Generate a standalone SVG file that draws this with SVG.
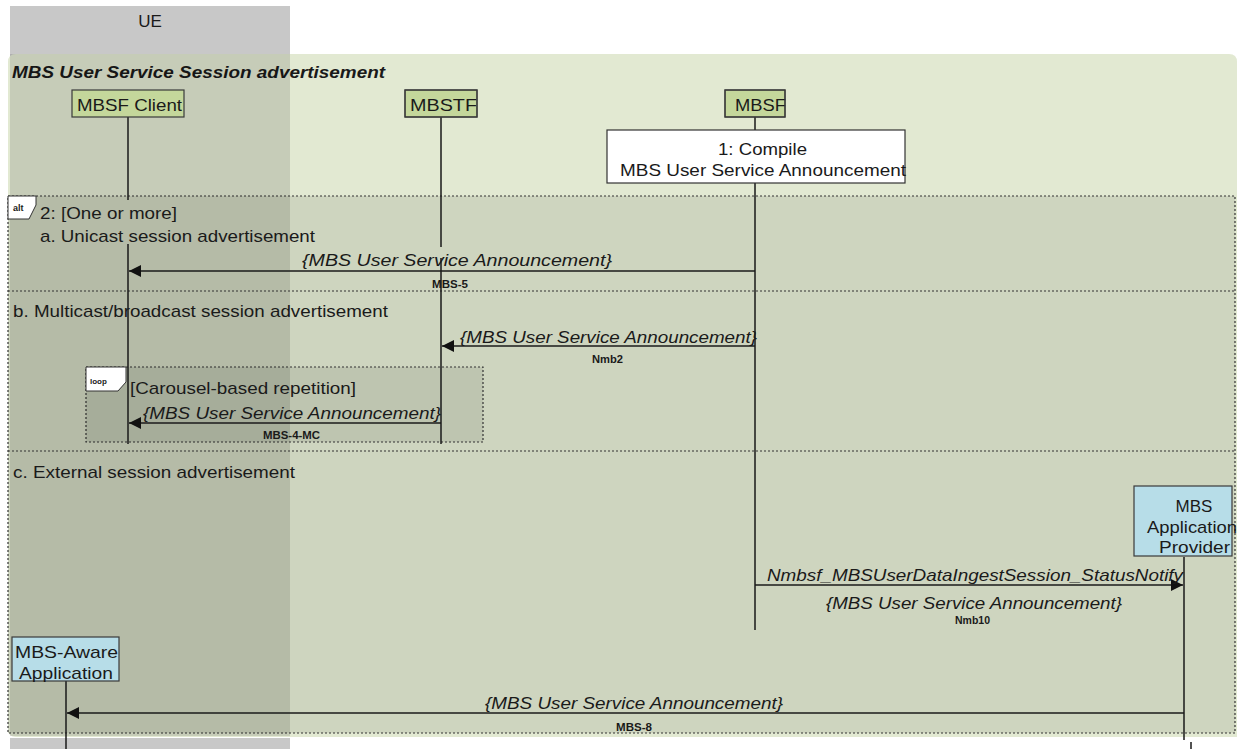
<svg xmlns="http://www.w3.org/2000/svg" width="1237" height="749" viewBox="0 0 1237 749">
<style>
.t{font-family:"Liberation Sans",Arial,sans-serif;fill:#1a1a1a}
.n{font-size:17px}
.m{font-size:17px;font-style:italic}
.s{font-size:10px;font-weight:bold}
.ll{stroke:#1a1a1a;stroke-width:1.5;fill:none}
.dot{stroke:#333;stroke-width:1.2;stroke-dasharray:2,2}
.msg{stroke:#1a1a1a;stroke-width:1.3;fill:none}
.gbox{fill:#c4d79b;stroke:#3a3a3a;stroke-width:1.2}
.bbox{fill:#b7dde8;stroke:#3a3a3a;stroke-width:1.2}
.tag{fill:#fff;stroke:#333;stroke-width:1}
</style>
<defs>
<marker id="ah" viewBox="0 0 12 12" refX="12" refY="6" markerWidth="12" markerHeight="12" markerUnits="userSpaceOnUse" orient="auto">
<path d="M0,0 L12,6 L0,12 Z" fill="#111"/>
</marker>
</defs>
<rect width="1237" height="749" fill="#fff"/>
<g id="ue">
<rect x="10" y="6" width="280" height="50" fill="#c8c8c8"/>
<rect x="10" y="738" width="280" height="11" fill="#c8c8c8"/>
<text class="t" x="150" y="27" font-size="17" text-anchor="middle">UE</text>
</g>
<g id="frame">
<path d="M16,54 H1229 Q1237,54 1237,62 V737 H16 Q8,737 8,729 V62 Q8,54 16,54 Z" fill="#e2e9d2"/>
<text class="t" x="12" y="78" font-size="17" font-weight="bold" font-style="italic" textLength="373" lengthAdjust="spacingAndGlyphs">MBS User Service Session advertisement</text>
</g>
<g id="alt">
<rect x="8" y="196" width="1227" height="537" class="dot" style="fill:#ced5bf"/>
</g>
<g id="loop">
<rect x="86" y="367" width="397" height="75" class="dot" style="fill:#000;fill-opacity:0.075"/>
</g>
<rect id="ue-overlay" x="10" y="54" width="280" height="682" fill="#000" fill-opacity="0.12"/>
<g id="alt-parts">
<line x1="8" y1="291" x2="1235" y2="291" class="dot"/>
<line x1="8" y1="451" x2="1235" y2="451" class="dot"/>
<polygon points="8,196 36,196 36,205 29,219 8,219" class="tag"/>
<text class="t" x="13" y="211" font-size="9" font-weight="bold">alt</text>
<text class="t n" x="40" y="219" textLength="137" lengthAdjust="spacingAndGlyphs">2: [One or more]</text>
<text class="t n" x="40" y="242" textLength="275" lengthAdjust="spacingAndGlyphs">a. Unicast session advertisement</text>
<text class="t n" x="13" y="317" textLength="375" lengthAdjust="spacingAndGlyphs">b. Multicast/broadcast session advertisement</text>
<text class="t n" x="13" y="478" textLength="282" lengthAdjust="spacingAndGlyphs">c. External session advertisement</text>
</g>
<g id="loop-parts">
<polygon points="86,367 126,367 126,382 118,391 86,391" class="tag"/>
<text class="t" x="90" y="384" font-size="8" font-weight="bold">loop</text>
<text class="t n" x="130" y="394" textLength="226" lengthAdjust="spacingAndGlyphs">[Carousel-based repetition]</text>
</g>
<g id="lifelines">
<path class="ll" d="M128,117 V200 M128,244 V444"/>
<path class="ll" d="M441,117 V247 M441,258 V444"/>
<path class="ll" d="M755,117 V130 M755,183 V630"/>
<path class="ll" d="M1184,557 V740 M1191,742 V749"/>
<path class="ll" d="M66,681 V749"/>
</g>
<g id="mbsf-client">
<rect x="72" y="90" width="112" height="27" class="gbox"/>
<text class="t n" x="77" y="111" textLength="105" lengthAdjust="spacingAndGlyphs">MBSF Client</text>
</g>
<g id="mbstf">
<rect x="405" y="90" width="72" height="27" class="gbox"/>
<text class="t n" x="410" y="111" textLength="67" lengthAdjust="spacingAndGlyphs">MBSTF</text>
<rect x="405" y="90" width="72" height="27" class="gbox" style="fill:none"/>
</g>
<g id="mbsf">
<rect x="725" y="90" width="60" height="27" class="gbox"/>
<text class="t n" x="735" y="111" textLength="51" lengthAdjust="spacingAndGlyphs">MBSF</text>
<rect x="725" y="90" width="60" height="27" class="gbox" style="fill:none"/>
</g>
<g id="compile">
<rect x="607" y="130" width="298" height="53" fill="#fff" stroke="#333" stroke-width="1.2"/>
<text class="t n" x="718" y="155" textLength="89" lengthAdjust="spacingAndGlyphs">1: Compile</text>
<text class="t n" x="620" y="176" textLength="286" lengthAdjust="spacingAndGlyphs">MBS User Service Announcement</text>
</g>
<g id="app-provider">
<rect x="1134" y="486" width="98" height="70" class="bbox"/>
<text class="t n" x="1194" y="512" text-anchor="middle">MBS</text>
<text class="t n" x="1147" y="533" textLength="90" lengthAdjust="spacingAndGlyphs">Application</text>
<text class="t n" x="1159" y="553" textLength="71" lengthAdjust="spacingAndGlyphs">Provider</text>
</g>
<g id="mbs-aware-app">
<rect x="12" y="637" width="107" height="44" class="bbox"/>
<text class="t n" x="15" y="658" textLength="103" lengthAdjust="spacingAndGlyphs">MBS-Aware</text>
<text class="t n" x="19" y="679" textLength="94" lengthAdjust="spacingAndGlyphs">Application</text>
</g>
<g id="connectors">
<line x1="755" y1="271" x2="129" y2="271" class="msg" marker-end="url(#ah)"/>
<text class="t m" x="302" y="266" textLength="310" lengthAdjust="spacingAndGlyphs">{MBS User Service Announcement}</text>
<text class="t s" x="432" y="288" textLength="36" lengthAdjust="spacingAndGlyphs">MBS-5</text>
<line x1="755" y1="346" x2="442" y2="346" class="msg" marker-end="url(#ah)"/>
<text class="t m" x="460" y="343" textLength="297" lengthAdjust="spacingAndGlyphs">{MBS User Service Announcement}</text>
<text class="t s" x="592" y="363" textLength="31" lengthAdjust="spacingAndGlyphs">Nmb2</text>
<line x1="441" y1="423" x2="129" y2="423" class="msg" marker-end="url(#ah)"/>
<text class="t m" x="143" y="419" textLength="298" lengthAdjust="spacingAndGlyphs">{MBS User Service Announcement}</text>
<text class="t s" x="263" y="439" textLength="57" lengthAdjust="spacingAndGlyphs">MBS-4-MC</text>
<line x1="755" y1="585" x2="1183" y2="585" class="msg" marker-end="url(#ah)"/>
<text class="t m" x="767" y="581" textLength="416" lengthAdjust="spacingAndGlyphs">Nmbsf_MBSUserDataIngestSession_StatusNotify</text>
<text class="t m" x="826" y="609" textLength="296" lengthAdjust="spacingAndGlyphs">{MBS User Service Announcement}</text>
<text class="t s" x="955" y="624" textLength="35" lengthAdjust="spacingAndGlyphs">Nmb10</text>
<line x1="1184" y1="713" x2="67" y2="713" class="msg" marker-end="url(#ah)"/>
<text class="t m" x="485" y="709" textLength="298" lengthAdjust="spacingAndGlyphs">{MBS User Service Announcement}</text>
<text class="t s" x="616" y="731" textLength="36" lengthAdjust="spacingAndGlyphs">MBS-8</text>
</g>
</svg>
